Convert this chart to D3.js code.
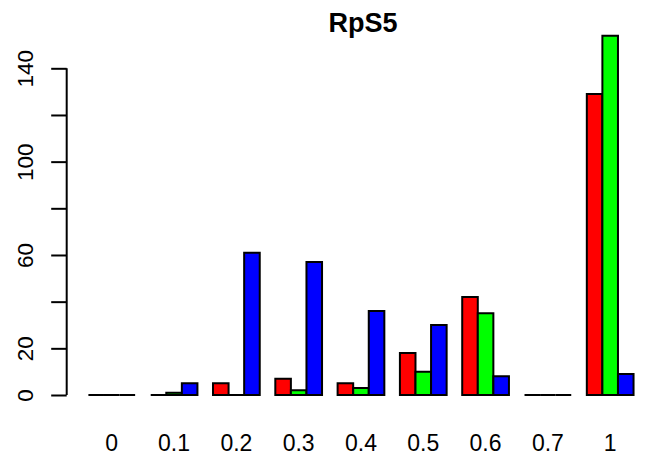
<!DOCTYPE html>
<html>
<head>
<meta charset="utf-8">
<script src="https://cdn.jsdelivr.net/npm/d3@7"></script>
<style>
  html, body { margin: 0; padding: 0; background: #fff; }
  svg { display: block; }
  text { font-family: "Liberation Sans", Arial, Helvetica, sans-serif; fill: #000; }
</style>
</head>
<body>
<svg id="chart" width="647" height="459"></svg>
<script>
const title = "RpS5";
const categories = ["0", "0.1", "0.2", "0.3", "0.4", "0.5", "0.6", "0.7", "1"];
const seriesNames = ["A", "B", "C"];
const seriesColors = ["#ff0000", "#00ff00", "#0000ff"];
const redValues   = [0, 0, 5, 7, 5, 18, 42, 0, 129];
const greenValues = [0, 1, 0, 2, 3, 10, 35, 0, 154];
const blueValues  = [0, 5, 61, 57, 36, 30, 8, 0, 9];
const yTicks = [0, 20, 40, 60, 80, 100, 120, 140];
const yTickLabels = ["0", "20", "", "60", "", "100", "", "140"];

const series = [redValues, greenValues, blueValues];
const svg = d3.select("#chart");

// R barplot layout: each group = space 1 + 3 bars of width 1
const nGroups = categories.length;
const totalUnits = nGroups * (1 + series.length);
const x = d3.scaleLinear().domain([-0.4, totalUnits + 1.4]).range([66.6, 655.35]);
const y = d3.scaleLinear().domain([0, 140]).range([395, 68.3]);

const bars = [];
categories.forEach((c, k) => {
  series.forEach((vals, j) => {
    const left = 1 + k * (1 + series.length) + j;
    bars.push({ left, right: left + 1, v: vals[k], color: seriesColors[j] });
  });
});

svg.append("g").selectAll("path").data(bars).join("path")
  .attr("d", d => {
    const x0 = x(d.left), x1 = x(d.right), y0 = y(0), y1 = y(d.v);
    return `M${x0},${y0}H${x1}V${y1}H${x0}Z`;
  })
  .attr("fill", d => d.color)
  .attr("stroke", "#000")
  .attr("stroke-width", 2)
  .attr("stroke-linejoin", "miter");

// Category labels
svg.append("g").selectAll("text").data(categories).join("text")
  .attr("x", (c, k) => x(1 + k * (1 + series.length) + series.length / 2))
  .attr("y", 450.5)
  .attr("text-anchor", "middle")
  .attr("font-size", 23)
  .text(c => c);

// Y axis
const yAxis = d3.axisLeft(y).tickValues(yTicks).tickSize(15.5).tickPadding(18)
  .tickFormat((d, i) => yTickLabels[i]);
const gy = svg.append("g").attr("transform", "translate(66.7,0)").call(yAxis);
gy.select(".domain").remove();
gy.append("line").attr("x1", 0).attr("x2", 0).attr("y1", y(0)).attr("y2", y(140))
  .attr("stroke", "#000").attr("stroke-width", 2);
gy.selectAll(".tick line").attr("stroke", "#000").attr("stroke-width", 2);
gy.selectAll(".tick text")
  .attr("font-size", 22.5)
  .attr("font-family", "Liberation Sans, Arial, sans-serif")
  .attr("fill", "#000")
  .attr("x", null).attr("dy", null)
  .attr("text-anchor", "middle")
  .attr("transform", "translate(-33.5,0) rotate(-90)");

// Title
svg.append("text")
  .attr("x", 363).attr("y", 31.5)
  .attr("text-anchor", "middle")
  .attr("font-size", 27)
  .attr("font-weight", "bold")
  .text(title);
</script>
</body>
</html>
